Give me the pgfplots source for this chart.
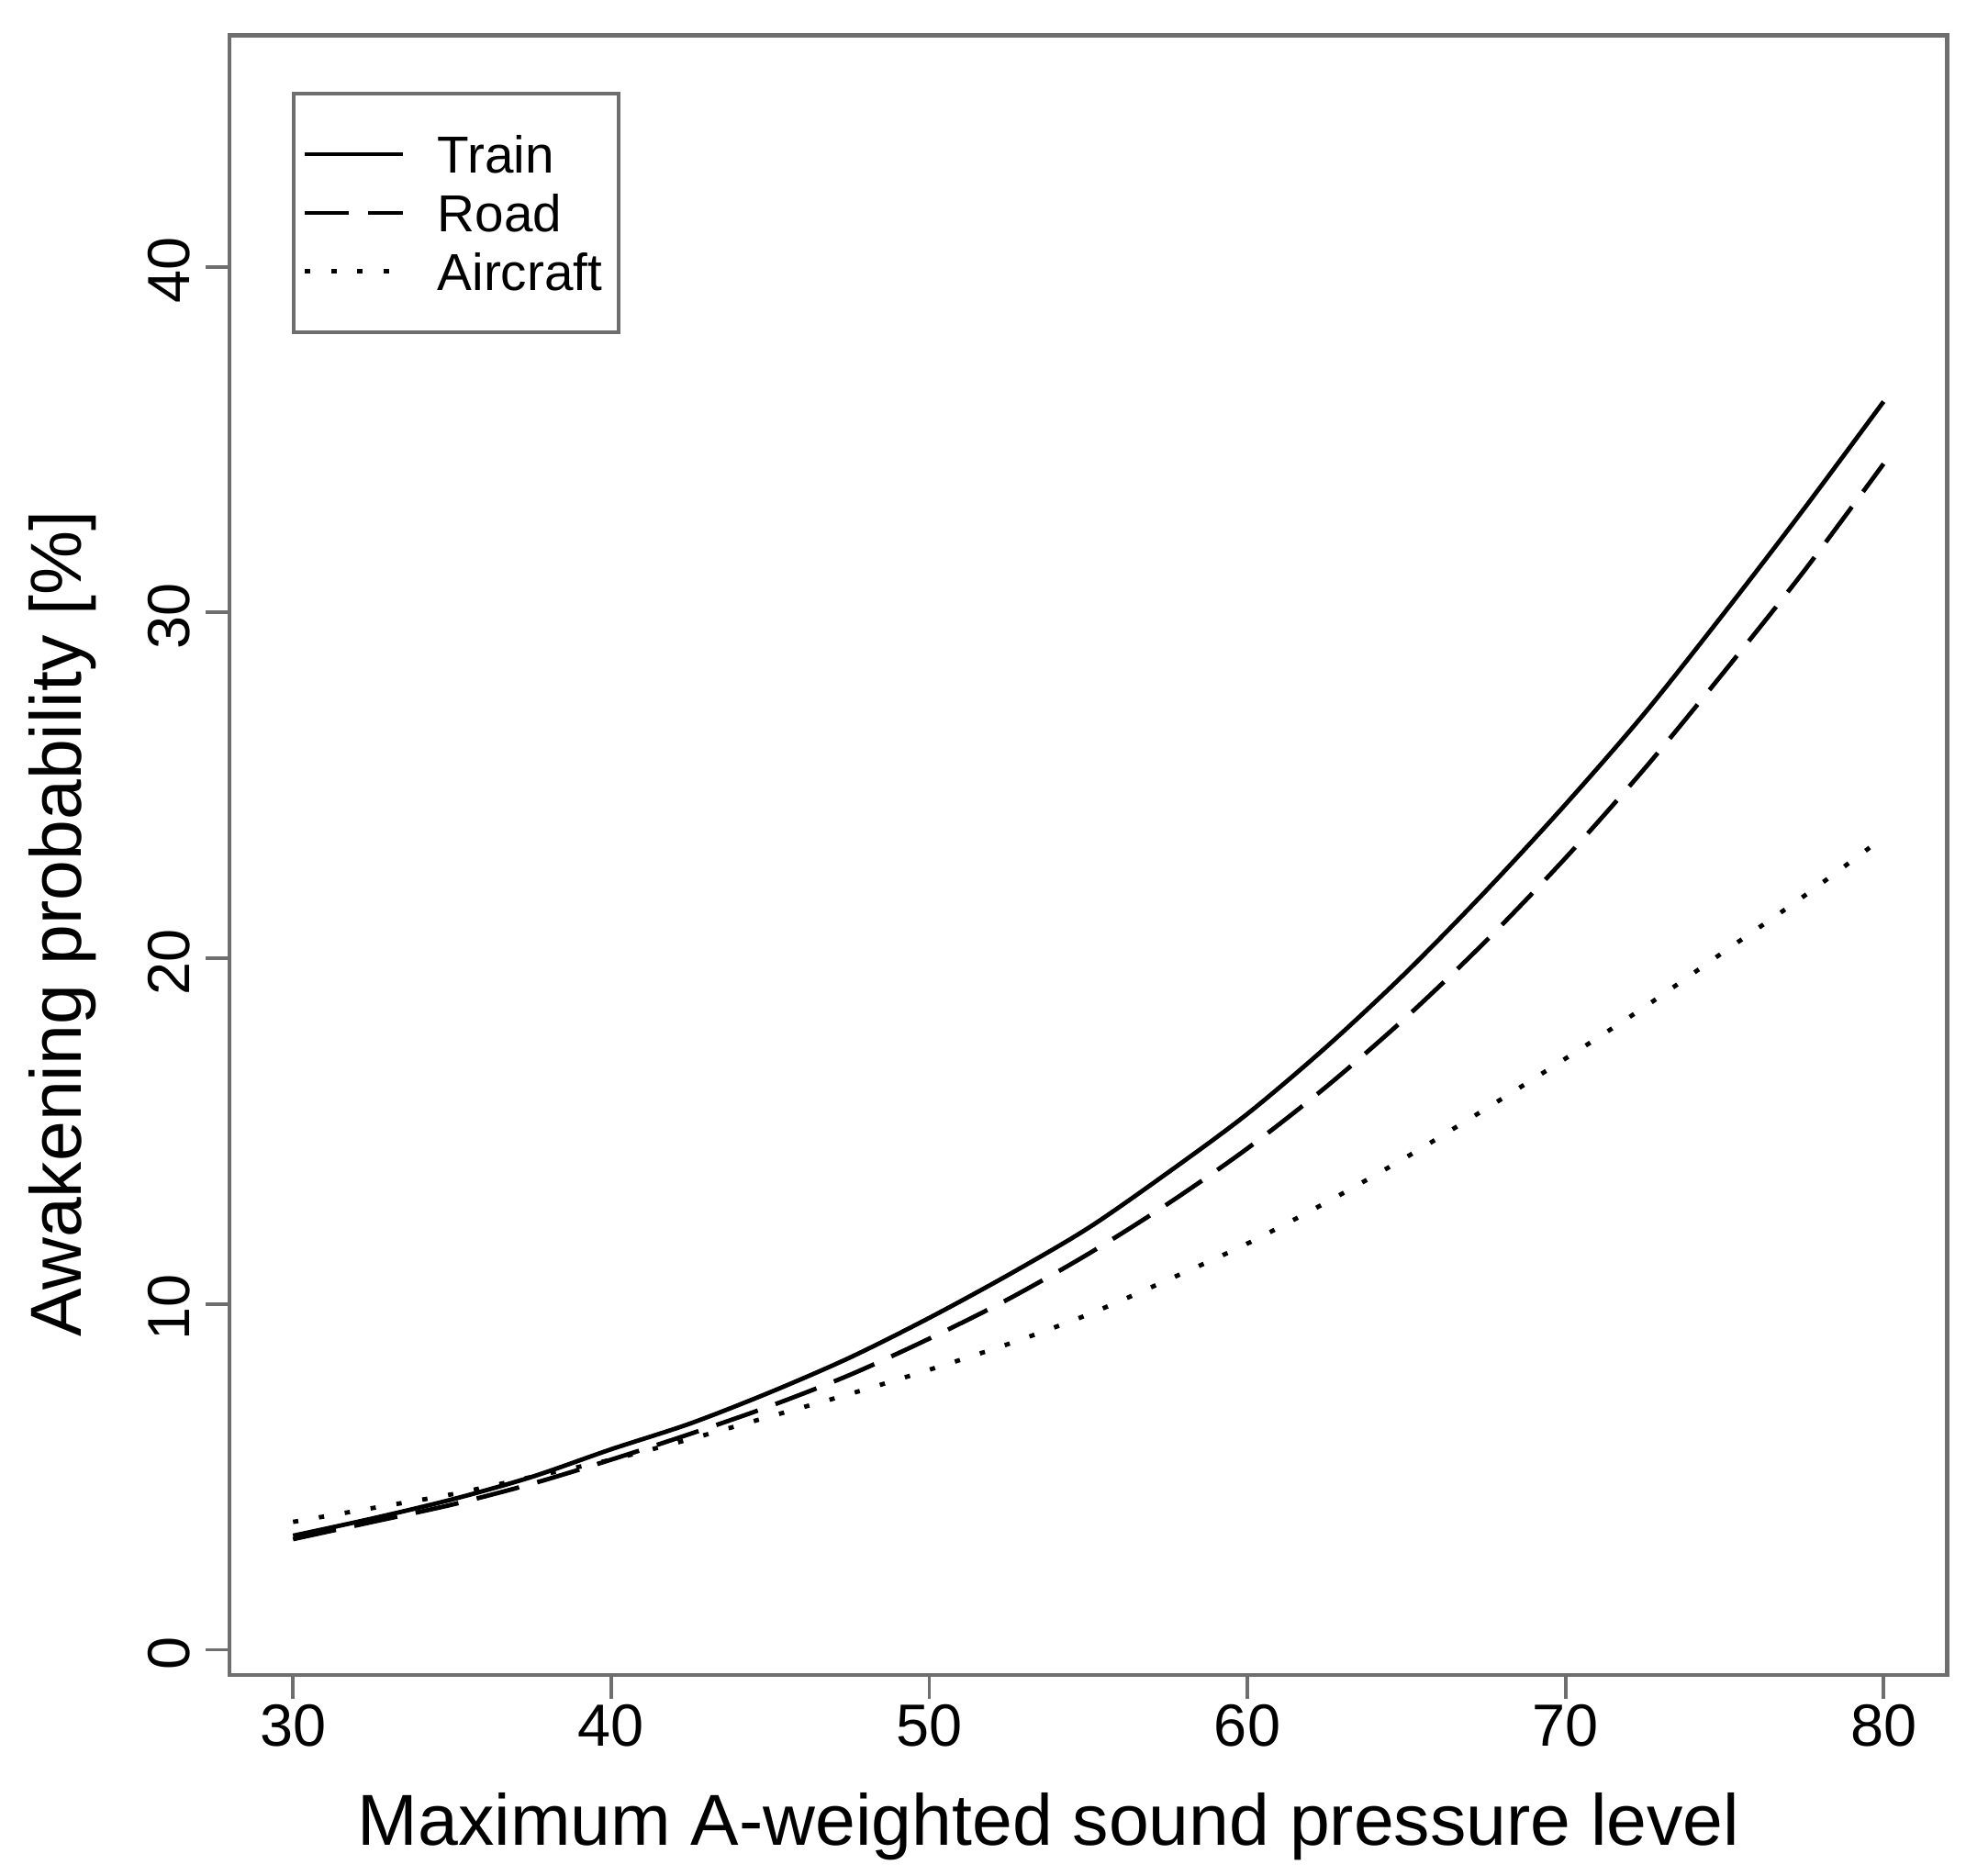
\documentclass[border=0pt]{standalone}
\usepackage{fontspec}
\setmainfont{Liberation Sans}
\usepackage{pgfplots}
\pgfplotsset{compat=1.18}

\definecolor{framegray}{RGB}{110,110,110}

% awakening probability (%)
\pgfplotstableread{
spl   train road  aircraft
30    3.3   3.2   3.7
32.5  3.8   3.7   4.1
35    4.35  4.2   4.5
37.5  5.0   4.8   5.0
40    5.8   5.5   5.5
42.5  6.55  6.25  6.1
45    7.45  7.05  6.75
47.5  8.45  7.95  7.4
50    9.6   9.0   8.1
52.5  10.85 10.15 8.85
55    12.2  11.45 9.7
57.5  13.8  12.9  10.7
60    15.5  14.5  11.75
62.5  17.45 16.3  12.95
65    19.6  18.3  14.25
67.5  21.95 20.5  15.65
70    24.45 22.9  17.1
72.5  27.1  25.5  18.6
75    30.0  28.3  20.2
77.5  33.0  31.2  21.8
80    36.1  34.3  23.5
}\awake

\begin{document}
\begin{tikzpicture}
\begin{axis}[
    scale only axis,
    width=13.70cm,
    height=13.08cm,
    xmin=28, xmax=82,
    ymin=-0.73, ymax=46.7,
    xtick={30,40,50,60,70,80},
    ytick={0,10,20,30,40},
    xtick pos=left, ytick pos=left,
    tick align=outside,
    major tick length=0.19cm,
    tick style={framegray, line width=0.8pt},
    axis line style={framegray, line width=1pt},
    /pgf/number format/assume math mode=true,
    ticklabel style={font=\fontsize{13.5}{16}\selectfont},
    xticklabel style={anchor=north, yshift=0.08cm},
    yticklabel style={rotate=90, anchor=south, xshift=-0.03cm},
    every axis x label/.style={at={(rel axis cs:0.477,0)}, anchor=base, yshift=-1.36cm,
        font=\fontsize{16.4}{19}\selectfont},
    every axis y label/.style={at={(rel axis cs:0,0.458)}, xshift=-1.33cm, rotate=90, anchor=center,
        font=\fontsize{16.4}{19}\selectfont},
    xlabel={Maximum A-weighted sound pressure level},
    ylabel={Awakening probability [\%]},
    legend cell align=left,
    legend image code/.code={\draw[#1] (0cm,0cm) -- (0.78cm,0cm);},
    legend style={
        at={(rel axis cs:0.0365,0.9656)}, anchor=north west,
        draw=framegray, line width=0.8pt,
        inner xsep=2pt, inner ysep=9.6pt,
        nodes={inner sep=0pt, text height=8.5pt, text depth=0pt},
        row sep=4.8pt, column sep=0.26cm,
        font=\fontsize{11.8}{14}\selectfont,
    },
]
\addplot[black, line width=1pt, smooth] table[x=spl, y=train] {\awake};
\addlegendentry{Train}
\addplot[black, line width=1pt, smooth, dash pattern=on 0.35cm off 0.15cm] table[x=spl, y=road] {\awake};
\addlegendentry{Road}
\addplot[black, line width=1pt, smooth, dash pattern=on 1.2pt off 4.75pt] table[x=spl, y=aircraft] {\awake};
\addlegendentry{Aircraft\hspace*{0.06cm}}
\end{axis}
\path (current axis.south west) ++(-1.83cm,-1.60cm);
\path (current axis.north east) ++(0.15cm,0.28cm);
\end{tikzpicture}
\end{document}
